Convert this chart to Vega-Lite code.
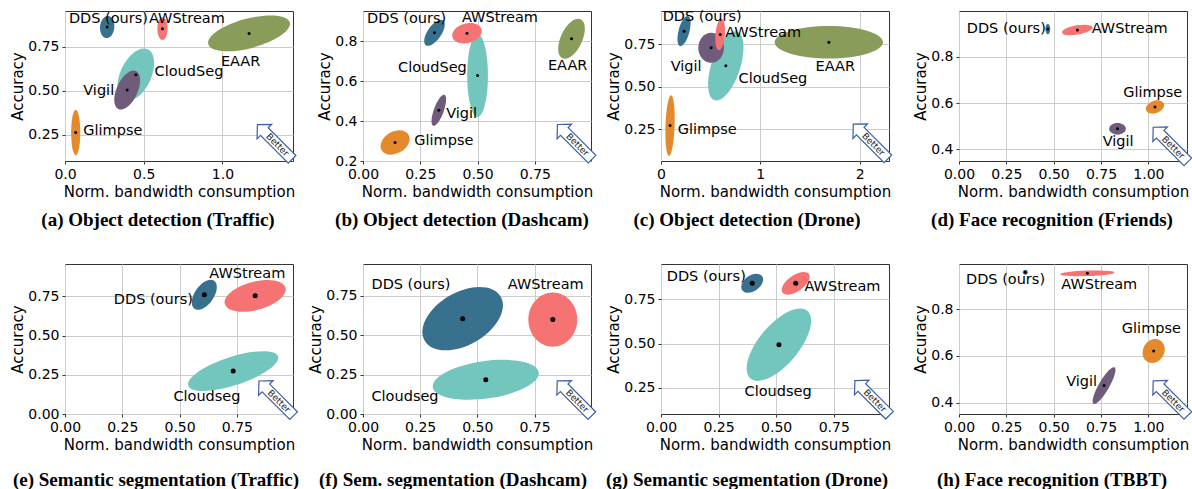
{
"$schema":"https://vega.github.io/schema/vega-lite/v6.json",
"padding":{"left":10,"top":8,"right":0,"bottom":0},
"background":"white",
"datasets":{
"ell":[
{"panel":"a","method":"EAAR","x":1.169,"y":0.826,"r":0.268,"ratio":0.35,"tilt":-15},
{"panel":"a","method":"Glimpse","x":0.068,"y":0.263,"r":0.145,"ratio":0.2,"tilt":90},
{"panel":"a","method":"CloudSeg","x":0.45,"y":0.592,"r":0.178,"ratio":0.55,"tilt":-65},
{"panel":"a","method":"Vigil","x":0.395,"y":0.505,"r":0.133,"ratio":0.5,"tilt":-65},
{"panel":"a","method":"AWStream","x":0.619,"y":0.853,"r":0.072,"ratio":0.45,"tilt":90},
{"panel":"a","method":"DDS","x":0.268,"y":0.862,"r":0.07,"ratio":0.65,"tilt":-85},
{"panel":"b","method":"EAAR","x":0.91,"y":0.812,"r":0.094,"ratio":0.5,"tilt":-65},
{"panel":"b","method":"Glimpse","x":0.14,"y":0.293,"r":0.068,"ratio":0.7,"tilt":-30},
{"panel":"b","method":"CloudSeg","x":0.5,"y":0.628,"r":0.181,"ratio":0.25,"tilt":90},
{"panel":"b","method":"Vigil","x":0.331,"y":0.454,"r":0.072,"ratio":0.3,"tilt":-70},
{"panel":"b","method":"AWStream","x":0.454,"y":0.84,"r":0.066,"ratio":0.65,"tilt":-15},
{"panel":"b","method":"DDS","x":0.312,"y":0.842,"r":0.066,"ratio":0.45,"tilt":-55},
{"panel":"c","method":"EAAR","x":1.69,"y":0.762,"r":0.545,"ratio":0.3,"tilt":0},
{"panel":"c","method":"Glimpse","x":0.091,"y":0.27,"r":0.306,"ratio":0.15,"tilt":-88},
{"panel":"c","method":"CloudSeg","x":0.653,"y":0.623,"r":0.364,"ratio":0.4,"tilt":-72},
{"panel":"c","method":"Vigil","x":0.505,"y":0.73,"r":0.152,"ratio":0.85,"tilt":90},
{"panel":"c","method":"AWStream","x":0.596,"y":0.808,"r":0.159,"ratio":0.3,"tilt":-85},
{"panel":"c","method":"DDS","x":0.232,"y":0.828,"r":0.156,"ratio":0.35,"tilt":-75},
{"panel":"d","method":"Glimpse","x":1.035,"y":0.584,"r":0.05,"ratio":0.65,"tilt":-20},
{"panel":"d","method":"Vigil","x":0.837,"y":0.489,"r":0.044,"ratio":0.7,"tilt":0},
{"panel":"d","method":"AWStream","x":0.625,"y":0.917,"r":0.082,"ratio":0.3,"tilt":-10},
{"panel":"d","method":"DDS","x":0.469,"y":0.921,"r":0.028,"ratio":0.45,"tilt":90},
{"panel":"e","method":"CloudSeg","x":0.734,"y":0.274,"r":0.206,"ratio":0.3,"tilt":-18},
{"panel":"e","method":"AWStream","x":0.83,"y":0.754,"r":0.137,"ratio":0.45,"tilt":-15},
{"panel":"e","method":"DDS","x":0.608,"y":0.761,"r":0.075,"ratio":0.55,"tilt":-55},
{"panel":"f","method":"CloudSeg","x":0.537,"y":0.217,"r":0.234,"ratio":0.35,"tilt":-8},
{"panel":"f","method":"AWStream","x":0.83,"y":0.599,"r":0.119,"ratio":0.9,"tilt":90},
{"panel":"f","method":"DDS","x":0.436,"y":0.605,"r":0.192,"ratio":0.6,"tilt":-30},
{"panel":"g","method":"CloudSeg","x":0.512,"y":0.494,"r":0.192,"ratio":0.45,"tilt":-50},
{"panel":"g","method":"AWStream","x":0.585,"y":0.841,"r":0.07,"ratio":0.5,"tilt":-35},
{"panel":"g","method":"DDS","x":0.396,"y":0.841,"r":0.053,"ratio":0.65,"tilt":-35},
{"panel":"h","method":"Glimpse","x":1.028,"y":0.621,"r":0.066,"ratio":0.85,"tilt":-60},
{"panel":"h","method":"Vigil","x":0.766,"y":0.473,"r":0.111,"ratio":0.25,"tilt":-60},
{"panel":"h","method":"AWStream","x":0.678,"y":0.954,"r":0.143,"ratio":0.1,"tilt":-2},
{"panel":"h","method":"DDS","x":0.35,"y":0.959,"r":0.013,"ratio":1,"tilt":0}
],
"lab":[
{"panel":"a","text":"DDS (ours)","x":0.025,"y":0.906},
{"panel":"a","text":"AWStream","x":0.533,"y":0.906},
{"panel":"a","text":"EAAR","x":0.99,"y":0.663},
{"panel":"a","text":"CloudSeg","x":0.569,"y":0.607},
{"panel":"a","text":"Vigil","x":0.116,"y":0.497},
{"panel":"a","text":"Glimpse","x":0.116,"y":0.273},
{"panel":"b","text":"DDS (ours)","x":0.018,"y":0.909},
{"panel":"b","text":"AWStream","x":0.432,"y":0.917},
{"panel":"b","text":"CloudSeg","x":0.153,"y":0.666},
{"panel":"b","text":"EAAR","x":0.807,"y":0.674},
{"panel":"b","text":"Vigil","x":0.363,"y":0.435},
{"panel":"b","text":"Glimpse","x":0.224,"y":0.3},
{"panel":"c","text":"DDS (ours)","x":0.017,"y":0.909},
{"panel":"c","text":"AWStream","x":0.646,"y":0.818},
{"panel":"c","text":"Vigil","x":0.098,"y":0.615},
{"panel":"c","text":"CloudSeg","x":0.781,"y":0.543},
{"panel":"c","text":"EAAR","x":1.556,"y":0.615},
{"panel":"c","text":"Glimpse","x":0.168,"y":0.244},
{"panel":"d","text":"DDS (ours)","x":0.041,"y":0.921},
{"panel":"d","text":"AWStream","x":0.701,"y":0.921},
{"panel":"d","text":"Glimpse","x":0.867,"y":0.646},
{"panel":"d","text":"Vigil","x":0.759,"y":0.434},
{"panel":"e","text":"AWStream","x":0.63,"y":0.893},
{"panel":"e","text":"DDS (ours)","x":0.213,"y":0.726},
{"panel":"e","text":"Cloudseg","x":0.473,"y":0.107},
{"panel":"f","text":"DDS (ours)","x":0.037,"y":0.817},
{"panel":"f","text":"AWStream","x":0.633,"y":0.817},
{"panel":"f","text":"Cloudseg","x":0.037,"y":0.106},
{"panel":"g","text":"DDS (ours)","x":0.025,"y":0.879},
{"panel":"g","text":"AWStream","x":0.623,"y":0.822},
{"panel":"g","text":"Cloudseg","x":0.363,"y":0.225},
{"panel":"h","text":"DDS (ours)","x":0.037,"y":0.926},
{"panel":"h","text":"AWStream","x":0.54,"y":0.904},
{"panel":"h","text":"Glimpse","x":0.86,"y":0.716},
{"panel":"h","text":"Vigil","x":0.566,"y":0.49}
],
"bet":[
{"panel":"a","x":1.332,"y":0.21},
{"panel":"b","x":0.924,"y":0.296},
{"panel":"c","x":2.111,"y":0.176},
{"panel":"d","x":1.117,"y":0.421},
{"panel":"e","x":0.922,"y":0.1},
{"panel":"f","x":0.925,"y":0.1},
{"panel":"g","x":0.917,"y":0.193},
{"panel":"h","x":1.117,"y":0.419}
]
},
"resolve":{"scale":{"size":"independent","shape":"independent"}},
"columns":4,
"spacing":{"row":103,"column":70},
"bounds":"flush",
"concat":[
{"width":228,"height":150,"title":{"text":"(a) Object detection (Traffic)","orient":"bottom","dx":-21},
"encoding":{"x":{"field":"x","type":"quantitative","scale":{"domain":[0,1.448],"nice":false,"zero":false},"axis":{"values":[0,0.5,1],"format":".1f","title":"Norm. bandwidth consumption"}},
"y":{"field":"y","type":"quantitative","scale":{"domain":[0.102,0.953],"nice":false,"zero":false},"axis":{"values":[0.25,0.5,0.75],"format":".2f","title":"Accuracy"}}},
"layer":[
{"data":{"name":"ell"},"transform":[{"filter":"datum.panel=='a'"}],"mark":{"type":"point","filled":true,"opacity":1,"strokeWidth":0},
"encoding":{"color":{"field":"method","type":"nominal","scale":{"domain":["DDS","AWStream","EAAR","CloudSeg","Vigil","Glimpse"],"range":["#37718e","#f67373","#8a9c5a","#72c6bd","#705b7a","#e58a2c"]},"legend":null},
"size":{"field":"r","type":"quantitative","scale":{"type":"pow","exponent":2,"domain":[0,1],"range":[0,99170]},"legend":null},
"shape":{"field":"ratio","type":"ordinal","scale":{"domain":[0.1,0.15,0.2,0.25,0.3,0.35,0.4,0.45,0.5,0.55,0.6,0.65,0.7,0.75,0.8,0.85,0.9,0.95,1],"range":["M-1,0A1,0.1,0,1,1,1,0A1,0.1,0,1,1,-1,0Z","M-1,0A1,0.15,0,1,1,1,0A1,0.15,0,1,1,-1,0Z","M-1,0A1,0.2,0,1,1,1,0A1,0.2,0,1,1,-1,0Z","M-1,0A1,0.25,0,1,1,1,0A1,0.25,0,1,1,-1,0Z","M-1,0A1,0.3,0,1,1,1,0A1,0.3,0,1,1,-1,0Z","M-1,0A1,0.35,0,1,1,1,0A1,0.35,0,1,1,-1,0Z","M-1,0A1,0.4,0,1,1,1,0A1,0.4,0,1,1,-1,0Z","M-1,0A1,0.45,0,1,1,1,0A1,0.45,0,1,1,-1,0Z","M-1,0A1,0.5,0,1,1,1,0A1,0.5,0,1,1,-1,0Z","M-1,0A1,0.55,0,1,1,1,0A1,0.55,0,1,1,-1,0Z","M-1,0A1,0.6,0,1,1,1,0A1,0.6,0,1,1,-1,0Z","M-1,0A1,0.65,0,1,1,1,0A1,0.65,0,1,1,-1,0Z","M-1,0A1,0.7,0,1,1,1,0A1,0.7,0,1,1,-1,0Z","M-1,0A1,0.75,0,1,1,1,0A1,0.75,0,1,1,-1,0Z","M-1,0A1,0.8,0,1,1,1,0A1,0.8,0,1,1,-1,0Z","M-1,0A1,0.85,0,1,1,1,0A1,0.85,0,1,1,-1,0Z","M-1,0A1,0.9,0,1,1,1,0A1,0.9,0,1,1,-1,0Z","M-1,0A1,0.95,0,1,1,1,0A1,0.95,0,1,1,-1,0Z","M-1,0A1,1,0,1,1,1,0A1,1,0,1,1,-1,0Z"]},"legend":null},
"angle":{"field":"tilt","type":"quantitative","scale":null}}},
{"data":{"name":"ell"},"transform":[{"filter":"datum.panel=='a'"}],"mark":{"type":"point","filled":true,"opacity":1,"color":"black","size":9,"shape":"circle","strokeWidth":0}},
{"data":{"name":"lab"},"transform":[{"filter":"datum.panel=='a'"}],"mark":{"type":"text","align":"left","baseline":"middle","fontSize":14.5,"font":"DejaVu Sans","color":"black"},"encoding":{"text":{"field":"text"}}},
{"data":{"name":"bet"},"transform":[{"filter":"datum.panel=='a'"}],"mark":{"type":"point","shape":"M-1,0L-0.6,-0.42L-0.6,-0.22L1,-0.22L1,0.22L-0.6,0.22L-0.6,0.42Z","size":2400,"angle":45,"filled":true,"fill":"white","stroke":"#3c5fa3","strokeWidth":1.2,"opacity":1}},
{"data":{"name":"bet"},"transform":[{"filter":"datum.panel=='a'"}],"mark":{"type":"text","text":"Better","angle":45,"fontSize":9,"font":"DejaVu Sans","dx":4,"align":"center","baseline":"middle","color":"#222"}}
]},
{"width":228,"height":150,"title":{"text":"(b) Object detection (Dashcam)","orient":"bottom","dx":-15},
"encoding":{"x":{"field":"x","type":"quantitative","scale":{"domain":[0,0.995],"nice":false,"zero":false},"axis":{"values":[0,0.25,0.5,0.75],"format":".2f","title":"Norm. bandwidth consumption"}},
"y":{"field":"y","type":"quantitative","scale":{"domain":[0.2,0.951],"nice":false,"zero":false},"axis":{"values":[0.2,0.4,0.6,0.8],"format":".1f","title":"Accuracy"}}},
"layer":[
{"data":{"name":"ell"},"transform":[{"filter":"datum.panel=='b'"}],"mark":{"type":"point","filled":true,"opacity":1,"strokeWidth":0},
"encoding":{"color":{"field":"method","type":"nominal","scale":{"domain":["DDS","AWStream","EAAR","CloudSeg","Vigil","Glimpse"],"range":["#37718e","#f67373","#8a9c5a","#72c6bd","#705b7a","#e58a2c"]},"legend":null},
"size":{"field":"r","type":"quantitative","scale":{"type":"pow","exponent":2,"domain":[0,1],"range":[0,210000]},"legend":null},
"shape":{"field":"ratio","type":"ordinal","scale":{"domain":[0.1,0.15,0.2,0.25,0.3,0.35,0.4,0.45,0.5,0.55,0.6,0.65,0.7,0.75,0.8,0.85,0.9,0.95,1],"range":["M-1,0A1,0.1,0,1,1,1,0A1,0.1,0,1,1,-1,0Z","M-1,0A1,0.15,0,1,1,1,0A1,0.15,0,1,1,-1,0Z","M-1,0A1,0.2,0,1,1,1,0A1,0.2,0,1,1,-1,0Z","M-1,0A1,0.25,0,1,1,1,0A1,0.25,0,1,1,-1,0Z","M-1,0A1,0.3,0,1,1,1,0A1,0.3,0,1,1,-1,0Z","M-1,0A1,0.35,0,1,1,1,0A1,0.35,0,1,1,-1,0Z","M-1,0A1,0.4,0,1,1,1,0A1,0.4,0,1,1,-1,0Z","M-1,0A1,0.45,0,1,1,1,0A1,0.45,0,1,1,-1,0Z","M-1,0A1,0.5,0,1,1,1,0A1,0.5,0,1,1,-1,0Z","M-1,0A1,0.55,0,1,1,1,0A1,0.55,0,1,1,-1,0Z","M-1,0A1,0.6,0,1,1,1,0A1,0.6,0,1,1,-1,0Z","M-1,0A1,0.65,0,1,1,1,0A1,0.65,0,1,1,-1,0Z","M-1,0A1,0.7,0,1,1,1,0A1,0.7,0,1,1,-1,0Z","M-1,0A1,0.75,0,1,1,1,0A1,0.75,0,1,1,-1,0Z","M-1,0A1,0.8,0,1,1,1,0A1,0.8,0,1,1,-1,0Z","M-1,0A1,0.85,0,1,1,1,0A1,0.85,0,1,1,-1,0Z","M-1,0A1,0.9,0,1,1,1,0A1,0.9,0,1,1,-1,0Z","M-1,0A1,0.95,0,1,1,1,0A1,0.95,0,1,1,-1,0Z","M-1,0A1,1,0,1,1,1,0A1,1,0,1,1,-1,0Z"]},"legend":null},
"angle":{"field":"tilt","type":"quantitative","scale":null}}},
{"data":{"name":"ell"},"transform":[{"filter":"datum.panel=='b'"}],"mark":{"type":"point","filled":true,"opacity":1,"color":"black","size":9,"shape":"circle","strokeWidth":0}},
{"data":{"name":"lab"},"transform":[{"filter":"datum.panel=='b'"}],"mark":{"type":"text","align":"left","baseline":"middle","fontSize":14.5,"font":"DejaVu Sans","color":"black"},"encoding":{"text":{"field":"text"}}},
{"data":{"name":"bet"},"transform":[{"filter":"datum.panel=='b'"}],"mark":{"type":"point","shape":"M-1,0L-0.6,-0.42L-0.6,-0.22L1,-0.22L1,0.22L-0.6,0.22L-0.6,0.42Z","size":2400,"angle":45,"filled":true,"fill":"white","stroke":"#3c5fa3","strokeWidth":1.2,"opacity":1}},
{"data":{"name":"bet"},"transform":[{"filter":"datum.panel=='b'"}],"mark":{"type":"text","text":"Better","angle":45,"fontSize":9,"font":"DejaVu Sans","dx":4,"align":"center","baseline":"middle","color":"#222"}}
]},
{"width":228,"height":150,"title":{"text":"(c) Object detection (Drone)","orient":"bottom","dx":-28},
"encoding":{"x":{"field":"x","type":"quantitative","scale":{"domain":[0,2.296],"nice":false,"zero":false},"axis":{"values":[0,1,2],"format":"d","title":"Norm. bandwidth consumption"}},
"y":{"field":"y","type":"quantitative","scale":{"domain":[0.061,0.947],"nice":false,"zero":false},"axis":{"values":[0.25,0.5,0.75],"format":".2f","title":"Accuracy"}}},
"layer":[
{"data":{"name":"ell"},"transform":[{"filter":"datum.panel=='c'"}],"mark":{"type":"point","filled":true,"opacity":1,"strokeWidth":0},
"encoding":{"color":{"field":"method","type":"nominal","scale":{"domain":["DDS","AWStream","EAAR","CloudSeg","Vigil","Glimpse"],"range":["#37718e","#f67373","#8a9c5a","#72c6bd","#705b7a","#e58a2c"]},"legend":null},
"size":{"field":"r","type":"quantitative","scale":{"type":"pow","exponent":2,"domain":[0,1],"range":[0,39440]},"legend":null},
"shape":{"field":"ratio","type":"ordinal","scale":{"domain":[0.1,0.15,0.2,0.25,0.3,0.35,0.4,0.45,0.5,0.55,0.6,0.65,0.7,0.75,0.8,0.85,0.9,0.95,1],"range":["M-1,0A1,0.1,0,1,1,1,0A1,0.1,0,1,1,-1,0Z","M-1,0A1,0.15,0,1,1,1,0A1,0.15,0,1,1,-1,0Z","M-1,0A1,0.2,0,1,1,1,0A1,0.2,0,1,1,-1,0Z","M-1,0A1,0.25,0,1,1,1,0A1,0.25,0,1,1,-1,0Z","M-1,0A1,0.3,0,1,1,1,0A1,0.3,0,1,1,-1,0Z","M-1,0A1,0.35,0,1,1,1,0A1,0.35,0,1,1,-1,0Z","M-1,0A1,0.4,0,1,1,1,0A1,0.4,0,1,1,-1,0Z","M-1,0A1,0.45,0,1,1,1,0A1,0.45,0,1,1,-1,0Z","M-1,0A1,0.5,0,1,1,1,0A1,0.5,0,1,1,-1,0Z","M-1,0A1,0.55,0,1,1,1,0A1,0.55,0,1,1,-1,0Z","M-1,0A1,0.6,0,1,1,1,0A1,0.6,0,1,1,-1,0Z","M-1,0A1,0.65,0,1,1,1,0A1,0.65,0,1,1,-1,0Z","M-1,0A1,0.7,0,1,1,1,0A1,0.7,0,1,1,-1,0Z","M-1,0A1,0.75,0,1,1,1,0A1,0.75,0,1,1,-1,0Z","M-1,0A1,0.8,0,1,1,1,0A1,0.8,0,1,1,-1,0Z","M-1,0A1,0.85,0,1,1,1,0A1,0.85,0,1,1,-1,0Z","M-1,0A1,0.9,0,1,1,1,0A1,0.9,0,1,1,-1,0Z","M-1,0A1,0.95,0,1,1,1,0A1,0.95,0,1,1,-1,0Z","M-1,0A1,1,0,1,1,1,0A1,1,0,1,1,-1,0Z"]},"legend":null},
"angle":{"field":"tilt","type":"quantitative","scale":null}}},
{"data":{"name":"ell"},"transform":[{"filter":"datum.panel=='c'"}],"mark":{"type":"point","filled":true,"opacity":1,"color":"black","size":9,"shape":"circle","strokeWidth":0}},
{"data":{"name":"lab"},"transform":[{"filter":"datum.panel=='c'"}],"mark":{"type":"text","align":"left","baseline":"middle","fontSize":14.5,"font":"DejaVu Sans","color":"black"},"encoding":{"text":{"field":"text"}}},
{"data":{"name":"bet"},"transform":[{"filter":"datum.panel=='c'"}],"mark":{"type":"point","shape":"M-1,0L-0.6,-0.42L-0.6,-0.22L1,-0.22L1,0.22L-0.6,0.22L-0.6,0.42Z","size":2400,"angle":45,"filled":true,"fill":"white","stroke":"#3c5fa3","strokeWidth":1.2,"opacity":1}},
{"data":{"name":"bet"},"transform":[{"filter":"datum.panel=='c'"}],"mark":{"type":"text","text":"Better","angle":45,"fontSize":9,"font":"DejaVu Sans","dx":4,"align":"center","baseline":"middle","color":"#222"}}
]},
{"width":228,"height":150,"title":{"text":"(d) Face recognition (Friends)","orient":"bottom","dx":-21},
"encoding":{"x":{"field":"x","type":"quantitative","scale":{"domain":[0,1.204],"nice":false,"zero":false},"axis":{"values":[0,0.25,0.5,0.75,1],"format":".2f","title":"Norm. bandwidth consumption"}},
"y":{"field":"y","type":"quantitative","scale":{"domain":[0.35,0.999],"nice":false,"zero":false},"axis":{"values":[0.4,0.6,0.8],"format":".1f","title":"Accuracy"}}},
"layer":[
{"data":{"name":"ell"},"transform":[{"filter":"datum.panel=='d'"}],"mark":{"type":"point","filled":true,"opacity":1,"strokeWidth":0},
"encoding":{"color":{"field":"method","type":"nominal","scale":{"domain":["DDS","AWStream","EAAR","CloudSeg","Vigil","Glimpse"],"range":["#37718e","#f67373","#8a9c5a","#72c6bd","#705b7a","#e58a2c"]},"legend":null},
"size":{"field":"r","type":"quantitative","scale":{"type":"pow","exponent":2,"domain":[0,1],"range":[0,143430]},"legend":null},
"shape":{"field":"ratio","type":"ordinal","scale":{"domain":[0.1,0.15,0.2,0.25,0.3,0.35,0.4,0.45,0.5,0.55,0.6,0.65,0.7,0.75,0.8,0.85,0.9,0.95,1],"range":["M-1,0A1,0.1,0,1,1,1,0A1,0.1,0,1,1,-1,0Z","M-1,0A1,0.15,0,1,1,1,0A1,0.15,0,1,1,-1,0Z","M-1,0A1,0.2,0,1,1,1,0A1,0.2,0,1,1,-1,0Z","M-1,0A1,0.25,0,1,1,1,0A1,0.25,0,1,1,-1,0Z","M-1,0A1,0.3,0,1,1,1,0A1,0.3,0,1,1,-1,0Z","M-1,0A1,0.35,0,1,1,1,0A1,0.35,0,1,1,-1,0Z","M-1,0A1,0.4,0,1,1,1,0A1,0.4,0,1,1,-1,0Z","M-1,0A1,0.45,0,1,1,1,0A1,0.45,0,1,1,-1,0Z","M-1,0A1,0.5,0,1,1,1,0A1,0.5,0,1,1,-1,0Z","M-1,0A1,0.55,0,1,1,1,0A1,0.55,0,1,1,-1,0Z","M-1,0A1,0.6,0,1,1,1,0A1,0.6,0,1,1,-1,0Z","M-1,0A1,0.65,0,1,1,1,0A1,0.65,0,1,1,-1,0Z","M-1,0A1,0.7,0,1,1,1,0A1,0.7,0,1,1,-1,0Z","M-1,0A1,0.75,0,1,1,1,0A1,0.75,0,1,1,-1,0Z","M-1,0A1,0.8,0,1,1,1,0A1,0.8,0,1,1,-1,0Z","M-1,0A1,0.85,0,1,1,1,0A1,0.85,0,1,1,-1,0Z","M-1,0A1,0.9,0,1,1,1,0A1,0.9,0,1,1,-1,0Z","M-1,0A1,0.95,0,1,1,1,0A1,0.95,0,1,1,-1,0Z","M-1,0A1,1,0,1,1,1,0A1,1,0,1,1,-1,0Z"]},"legend":null},
"angle":{"field":"tilt","type":"quantitative","scale":null}}},
{"data":{"name":"ell"},"transform":[{"filter":"datum.panel=='d'"}],"mark":{"type":"point","filled":true,"opacity":1,"color":"black","size":9,"shape":"circle","strokeWidth":0}},
{"data":{"name":"lab"},"transform":[{"filter":"datum.panel=='d'"}],"mark":{"type":"text","align":"left","baseline":"middle","fontSize":14.5,"font":"DejaVu Sans","color":"black"},"encoding":{"text":{"field":"text"}}},
{"data":{"name":"bet"},"transform":[{"filter":"datum.panel=='d'"}],"mark":{"type":"point","shape":"M-1,0L-0.6,-0.42L-0.6,-0.22L1,-0.22L1,0.22L-0.6,0.22L-0.6,0.42Z","size":2400,"angle":45,"filled":true,"fill":"white","stroke":"#3c5fa3","strokeWidth":1.2,"opacity":1}},
{"data":{"name":"bet"},"transform":[{"filter":"datum.panel=='d'"}],"mark":{"type":"text","text":"Better","angle":45,"fontSize":9,"font":"DejaVu Sans","dx":4,"align":"center","baseline":"middle","color":"#222"}}
]},
{"width":228,"height":150,"title":{"text":"(e) Semantic segmentation (Traffic)","orient":"bottom","dx":-23,"offset":19},
"encoding":{"x":{"field":"x","type":"quantitative","scale":{"domain":[0,0.995],"nice":false,"zero":false},"axis":{"values":[0,0.25,0.5,0.75],"format":".2f","title":"Norm. bandwidth consumption"}},
"y":{"field":"y","type":"quantitative","scale":{"domain":[0,0.957],"nice":false,"zero":false},"axis":{"values":[0,0.25,0.5,0.75],"format":".2f","title":"Accuracy"}}},
"layer":[
{"data":{"name":"ell"},"transform":[{"filter":"datum.panel=='e'"}],"mark":{"type":"point","filled":true,"opacity":1,"strokeWidth":0},
"encoding":{"color":{"field":"method","type":"nominal","scale":{"domain":["DDS","AWStream","EAAR","CloudSeg","Vigil","Glimpse"],"range":["#37718e","#f67373","#8a9c5a","#72c6bd","#705b7a","#e58a2c"]},"legend":null},
"size":{"field":"r","type":"quantitative","scale":{"type":"pow","exponent":2,"domain":[0,1],"range":[0,210000]},"legend":null},
"shape":{"field":"ratio","type":"ordinal","scale":{"domain":[0.1,0.15,0.2,0.25,0.3,0.35,0.4,0.45,0.5,0.55,0.6,0.65,0.7,0.75,0.8,0.85,0.9,0.95,1],"range":["M-1,0A1,0.1,0,1,1,1,0A1,0.1,0,1,1,-1,0Z","M-1,0A1,0.15,0,1,1,1,0A1,0.15,0,1,1,-1,0Z","M-1,0A1,0.2,0,1,1,1,0A1,0.2,0,1,1,-1,0Z","M-1,0A1,0.25,0,1,1,1,0A1,0.25,0,1,1,-1,0Z","M-1,0A1,0.3,0,1,1,1,0A1,0.3,0,1,1,-1,0Z","M-1,0A1,0.35,0,1,1,1,0A1,0.35,0,1,1,-1,0Z","M-1,0A1,0.4,0,1,1,1,0A1,0.4,0,1,1,-1,0Z","M-1,0A1,0.45,0,1,1,1,0A1,0.45,0,1,1,-1,0Z","M-1,0A1,0.5,0,1,1,1,0A1,0.5,0,1,1,-1,0Z","M-1,0A1,0.55,0,1,1,1,0A1,0.55,0,1,1,-1,0Z","M-1,0A1,0.6,0,1,1,1,0A1,0.6,0,1,1,-1,0Z","M-1,0A1,0.65,0,1,1,1,0A1,0.65,0,1,1,-1,0Z","M-1,0A1,0.7,0,1,1,1,0A1,0.7,0,1,1,-1,0Z","M-1,0A1,0.75,0,1,1,1,0A1,0.75,0,1,1,-1,0Z","M-1,0A1,0.8,0,1,1,1,0A1,0.8,0,1,1,-1,0Z","M-1,0A1,0.85,0,1,1,1,0A1,0.85,0,1,1,-1,0Z","M-1,0A1,0.9,0,1,1,1,0A1,0.9,0,1,1,-1,0Z","M-1,0A1,0.95,0,1,1,1,0A1,0.95,0,1,1,-1,0Z","M-1,0A1,1,0,1,1,1,0A1,1,0,1,1,-1,0Z"]},"legend":null},
"angle":{"field":"tilt","type":"quantitative","scale":null}}},
{"data":{"name":"ell"},"transform":[{"filter":"datum.panel=='e'"}],"mark":{"type":"point","filled":true,"opacity":1,"color":"black","size":25,"shape":"circle","strokeWidth":0}},
{"data":{"name":"lab"},"transform":[{"filter":"datum.panel=='e'"}],"mark":{"type":"text","align":"left","baseline":"middle","fontSize":14.5,"font":"DejaVu Sans","color":"black"},"encoding":{"text":{"field":"text"}}},
{"data":{"name":"bet"},"transform":[{"filter":"datum.panel=='e'"}],"mark":{"type":"point","shape":"M-1,0L-0.6,-0.42L-0.6,-0.22L1,-0.22L1,0.22L-0.6,0.22L-0.6,0.42Z","size":2400,"angle":45,"filled":true,"fill":"white","stroke":"#3c5fa3","strokeWidth":1.2,"opacity":1}},
{"data":{"name":"bet"},"transform":[{"filter":"datum.panel=='e'"}],"mark":{"type":"text","text":"Better","angle":45,"fontSize":9,"font":"DejaVu Sans","dx":4,"align":"center","baseline":"middle","color":"#222"}}
]},
{"width":228,"height":150,"title":{"text":"(f) Sem. segmentation (Dashcam)","orient":"bottom","dx":-24,"offset":19},
"encoding":{"x":{"field":"x","type":"quantitative","scale":{"domain":[0,0.997],"nice":false,"zero":false},"axis":{"values":[0,0.25,0.5,0.75],"format":".2f","title":"Norm. bandwidth consumption"}},
"y":{"field":"y","type":"quantitative","scale":{"domain":[0,0.952],"nice":false,"zero":false},"axis":{"values":[0,0.25,0.5,0.75],"format":".2f","title":"Accuracy"}}},
"layer":[
{"data":{"name":"ell"},"transform":[{"filter":"datum.panel=='f'"}],"mark":{"type":"point","filled":true,"opacity":1,"strokeWidth":0},
"encoding":{"color":{"field":"method","type":"nominal","scale":{"domain":["DDS","AWStream","EAAR","CloudSeg","Vigil","Glimpse"],"range":["#37718e","#f67373","#8a9c5a","#72c6bd","#705b7a","#e58a2c"]},"legend":null},
"size":{"field":"r","type":"quantitative","scale":{"type":"pow","exponent":2,"domain":[0,1],"range":[0,209200]},"legend":null},
"shape":{"field":"ratio","type":"ordinal","scale":{"domain":[0.1,0.15,0.2,0.25,0.3,0.35,0.4,0.45,0.5,0.55,0.6,0.65,0.7,0.75,0.8,0.85,0.9,0.95,1],"range":["M-1,0A1,0.1,0,1,1,1,0A1,0.1,0,1,1,-1,0Z","M-1,0A1,0.15,0,1,1,1,0A1,0.15,0,1,1,-1,0Z","M-1,0A1,0.2,0,1,1,1,0A1,0.2,0,1,1,-1,0Z","M-1,0A1,0.25,0,1,1,1,0A1,0.25,0,1,1,-1,0Z","M-1,0A1,0.3,0,1,1,1,0A1,0.3,0,1,1,-1,0Z","M-1,0A1,0.35,0,1,1,1,0A1,0.35,0,1,1,-1,0Z","M-1,0A1,0.4,0,1,1,1,0A1,0.4,0,1,1,-1,0Z","M-1,0A1,0.45,0,1,1,1,0A1,0.45,0,1,1,-1,0Z","M-1,0A1,0.5,0,1,1,1,0A1,0.5,0,1,1,-1,0Z","M-1,0A1,0.55,0,1,1,1,0A1,0.55,0,1,1,-1,0Z","M-1,0A1,0.6,0,1,1,1,0A1,0.6,0,1,1,-1,0Z","M-1,0A1,0.65,0,1,1,1,0A1,0.65,0,1,1,-1,0Z","M-1,0A1,0.7,0,1,1,1,0A1,0.7,0,1,1,-1,0Z","M-1,0A1,0.75,0,1,1,1,0A1,0.75,0,1,1,-1,0Z","M-1,0A1,0.8,0,1,1,1,0A1,0.8,0,1,1,-1,0Z","M-1,0A1,0.85,0,1,1,1,0A1,0.85,0,1,1,-1,0Z","M-1,0A1,0.9,0,1,1,1,0A1,0.9,0,1,1,-1,0Z","M-1,0A1,0.95,0,1,1,1,0A1,0.95,0,1,1,-1,0Z","M-1,0A1,1,0,1,1,1,0A1,1,0,1,1,-1,0Z"]},"legend":null},
"angle":{"field":"tilt","type":"quantitative","scale":null}}},
{"data":{"name":"ell"},"transform":[{"filter":"datum.panel=='f'"}],"mark":{"type":"point","filled":true,"opacity":1,"color":"black","size":25,"shape":"circle","strokeWidth":0}},
{"data":{"name":"lab"},"transform":[{"filter":"datum.panel=='f'"}],"mark":{"type":"text","align":"left","baseline":"middle","fontSize":14.5,"font":"DejaVu Sans","color":"black"},"encoding":{"text":{"field":"text"}}},
{"data":{"name":"bet"},"transform":[{"filter":"datum.panel=='f'"}],"mark":{"type":"point","shape":"M-1,0L-0.6,-0.42L-0.6,-0.22L1,-0.22L1,0.22L-0.6,0.22L-0.6,0.42Z","size":2400,"angle":45,"filled":true,"fill":"white","stroke":"#3c5fa3","strokeWidth":1.2,"opacity":1}},
{"data":{"name":"bet"},"transform":[{"filter":"datum.panel=='f'"}],"mark":{"type":"text","text":"Better","angle":45,"fontSize":9,"font":"DejaVu Sans","dx":4,"align":"center","baseline":"middle","color":"#222"}}
]},
{"width":228,"height":150,"title":{"text":"(g) Semantic segmentation (Drone)","orient":"bottom","dx":-28,"offset":19},
"encoding":{"x":{"field":"x","type":"quantitative","scale":{"domain":[0,0.99],"nice":false,"zero":false},"axis":{"values":[0,0.25,0.5,0.75],"format":".2f","title":"Norm. bandwidth consumption"}},
"y":{"field":"y","type":"quantitative","scale":{"domain":[0.102,0.95],"nice":false,"zero":false},"axis":{"values":[0.25,0.5,0.75],"format":".2f","title":"Accuracy"}}},
"layer":[
{"data":{"name":"ell"},"transform":[{"filter":"datum.panel=='g'"}],"mark":{"type":"point","filled":true,"opacity":1,"strokeWidth":0},
"encoding":{"color":{"field":"method","type":"nominal","scale":{"domain":["DDS","AWStream","EAAR","CloudSeg","Vigil","Glimpse"],"range":["#37718e","#f67373","#8a9c5a","#72c6bd","#705b7a","#e58a2c"]},"legend":null},
"size":{"field":"r","type":"quantitative","scale":{"type":"pow","exponent":2,"domain":[0,1],"range":[0,212150]},"legend":null},
"shape":{"field":"ratio","type":"ordinal","scale":{"domain":[0.1,0.15,0.2,0.25,0.3,0.35,0.4,0.45,0.5,0.55,0.6,0.65,0.7,0.75,0.8,0.85,0.9,0.95,1],"range":["M-1,0A1,0.1,0,1,1,1,0A1,0.1,0,1,1,-1,0Z","M-1,0A1,0.15,0,1,1,1,0A1,0.15,0,1,1,-1,0Z","M-1,0A1,0.2,0,1,1,1,0A1,0.2,0,1,1,-1,0Z","M-1,0A1,0.25,0,1,1,1,0A1,0.25,0,1,1,-1,0Z","M-1,0A1,0.3,0,1,1,1,0A1,0.3,0,1,1,-1,0Z","M-1,0A1,0.35,0,1,1,1,0A1,0.35,0,1,1,-1,0Z","M-1,0A1,0.4,0,1,1,1,0A1,0.4,0,1,1,-1,0Z","M-1,0A1,0.45,0,1,1,1,0A1,0.45,0,1,1,-1,0Z","M-1,0A1,0.5,0,1,1,1,0A1,0.5,0,1,1,-1,0Z","M-1,0A1,0.55,0,1,1,1,0A1,0.55,0,1,1,-1,0Z","M-1,0A1,0.6,0,1,1,1,0A1,0.6,0,1,1,-1,0Z","M-1,0A1,0.65,0,1,1,1,0A1,0.65,0,1,1,-1,0Z","M-1,0A1,0.7,0,1,1,1,0A1,0.7,0,1,1,-1,0Z","M-1,0A1,0.75,0,1,1,1,0A1,0.75,0,1,1,-1,0Z","M-1,0A1,0.8,0,1,1,1,0A1,0.8,0,1,1,-1,0Z","M-1,0A1,0.85,0,1,1,1,0A1,0.85,0,1,1,-1,0Z","M-1,0A1,0.9,0,1,1,1,0A1,0.9,0,1,1,-1,0Z","M-1,0A1,0.95,0,1,1,1,0A1,0.95,0,1,1,-1,0Z","M-1,0A1,1,0,1,1,1,0A1,1,0,1,1,-1,0Z"]},"legend":null},
"angle":{"field":"tilt","type":"quantitative","scale":null}}},
{"data":{"name":"ell"},"transform":[{"filter":"datum.panel=='g'"}],"mark":{"type":"point","filled":true,"opacity":1,"color":"black","size":25,"shape":"circle","strokeWidth":0}},
{"data":{"name":"lab"},"transform":[{"filter":"datum.panel=='g'"}],"mark":{"type":"text","align":"left","baseline":"middle","fontSize":14.5,"font":"DejaVu Sans","color":"black"},"encoding":{"text":{"field":"text"}}},
{"data":{"name":"bet"},"transform":[{"filter":"datum.panel=='g'"}],"mark":{"type":"point","shape":"M-1,0L-0.6,-0.42L-0.6,-0.22L1,-0.22L1,0.22L-0.6,0.22L-0.6,0.42Z","size":2400,"angle":45,"filled":true,"fill":"white","stroke":"#3c5fa3","strokeWidth":1.2,"opacity":1}},
{"data":{"name":"bet"},"transform":[{"filter":"datum.panel=='g'"}],"mark":{"type":"text","text":"Better","angle":45,"fontSize":9,"font":"DejaVu Sans","dx":4,"align":"center","baseline":"middle","color":"#222"}}
]},
{"width":228,"height":150,"title":{"text":"(h) Face recognition (TBBT)","orient":"bottom","dx":-21,"offset":19},
"encoding":{"x":{"field":"x","type":"quantitative","scale":{"domain":[0,1.204],"nice":false,"zero":false},"axis":{"values":[0,0.25,0.5,0.75,1],"format":".2f","title":"Norm. bandwidth consumption"}},
"y":{"field":"y","type":"quantitative","scale":{"domain":[0.351,0.994],"nice":false,"zero":false},"axis":{"values":[0.4,0.6,0.8],"format":".1f","title":"Accuracy"}}},
"layer":[
{"data":{"name":"ell"},"transform":[{"filter":"datum.panel=='h'"}],"mark":{"type":"point","filled":true,"opacity":1,"strokeWidth":0},
"encoding":{"color":{"field":"method","type":"nominal","scale":{"domain":["DDS","AWStream","EAAR","CloudSeg","Vigil","Glimpse"],"range":["#37718e","#f67373","#8a9c5a","#72c6bd","#705b7a","#e58a2c"]},"legend":null},
"size":{"field":"r","type":"quantitative","scale":{"type":"pow","exponent":2,"domain":[0,1],"range":[0,143430]},"legend":null},
"shape":{"field":"ratio","type":"ordinal","scale":{"domain":[0.1,0.15,0.2,0.25,0.3,0.35,0.4,0.45,0.5,0.55,0.6,0.65,0.7,0.75,0.8,0.85,0.9,0.95,1],"range":["M-1,0A1,0.1,0,1,1,1,0A1,0.1,0,1,1,-1,0Z","M-1,0A1,0.15,0,1,1,1,0A1,0.15,0,1,1,-1,0Z","M-1,0A1,0.2,0,1,1,1,0A1,0.2,0,1,1,-1,0Z","M-1,0A1,0.25,0,1,1,1,0A1,0.25,0,1,1,-1,0Z","M-1,0A1,0.3,0,1,1,1,0A1,0.3,0,1,1,-1,0Z","M-1,0A1,0.35,0,1,1,1,0A1,0.35,0,1,1,-1,0Z","M-1,0A1,0.4,0,1,1,1,0A1,0.4,0,1,1,-1,0Z","M-1,0A1,0.45,0,1,1,1,0A1,0.45,0,1,1,-1,0Z","M-1,0A1,0.5,0,1,1,1,0A1,0.5,0,1,1,-1,0Z","M-1,0A1,0.55,0,1,1,1,0A1,0.55,0,1,1,-1,0Z","M-1,0A1,0.6,0,1,1,1,0A1,0.6,0,1,1,-1,0Z","M-1,0A1,0.65,0,1,1,1,0A1,0.65,0,1,1,-1,0Z","M-1,0A1,0.7,0,1,1,1,0A1,0.7,0,1,1,-1,0Z","M-1,0A1,0.75,0,1,1,1,0A1,0.75,0,1,1,-1,0Z","M-1,0A1,0.8,0,1,1,1,0A1,0.8,0,1,1,-1,0Z","M-1,0A1,0.85,0,1,1,1,0A1,0.85,0,1,1,-1,0Z","M-1,0A1,0.9,0,1,1,1,0A1,0.9,0,1,1,-1,0Z","M-1,0A1,0.95,0,1,1,1,0A1,0.95,0,1,1,-1,0Z","M-1,0A1,1,0,1,1,1,0A1,1,0,1,1,-1,0Z"]},"legend":null},
"angle":{"field":"tilt","type":"quantitative","scale":null}}},
{"data":{"name":"ell"},"transform":[{"filter":"datum.panel=='h'"}],"mark":{"type":"point","filled":true,"opacity":1,"color":"black","size":9,"shape":"circle","strokeWidth":0}},
{"data":{"name":"lab"},"transform":[{"filter":"datum.panel=='h'"}],"mark":{"type":"text","align":"left","baseline":"middle","fontSize":14.5,"font":"DejaVu Sans","color":"black"},"encoding":{"text":{"field":"text"}}},
{"data":{"name":"bet"},"transform":[{"filter":"datum.panel=='h'"}],"mark":{"type":"point","shape":"M-1,0L-0.6,-0.42L-0.6,-0.22L1,-0.22L1,0.22L-0.6,0.22L-0.6,0.42Z","size":2400,"angle":45,"filled":true,"fill":"white","stroke":"#3c5fa3","strokeWidth":1.2,"opacity":1}},
{"data":{"name":"bet"},"transform":[{"filter":"datum.panel=='h'"}],"mark":{"type":"text","text":"Better","angle":45,"fontSize":9,"font":"DejaVu Sans","dx":4,"align":"center","baseline":"middle","color":"#222"}}
]}
],
"config":{
"view":{"stroke":"#333333","strokeWidth":1},
"axis":{"grid":true,"gridColor":"#cccccc","gridWidth":1,"domain":false,"ticks":true,"tickSize":3,"tickColor":"#333333","labelFont":"DejaVu Sans","labelFontSize":14,"labelColor":"#000000","titleFont":"DejaVu Sans","titleFontSize":15,"titleFontWeight":"normal","titleColor":"#000000","labelFlush":false,"labelOverlap":false},
"axisX":{"labelPadding":3,"titlePadding":3},
"axisY":{"labelPadding":3,"titlePadding":2},
"title":{"anchor":"middle","frame":"group","font":"Liberation Serif","fontSize":19,"fontWeight":"bold","color":"#000000","offset":12}
}
}
